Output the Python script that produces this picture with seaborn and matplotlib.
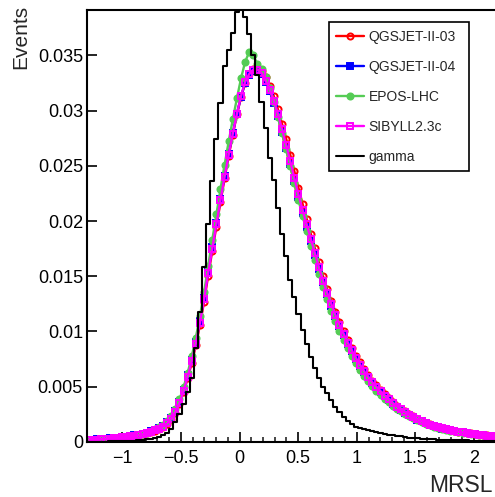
"""MRSL distributions for hadron models and gamma, ROOT-like style."""

import matplotlib

matplotlib.use("Agg")

import matplotlib.pyplot as plt
import numpy as np
import pandas as pd
import seaborn as sns
from matplotlib.ticker import FixedLocator, MultipleLocator

# 100 bins from -1.3 to 2.2 (bin contents)
x_min, x_max = -1.3, 2.2
n_bins = 100

qgsjet_ii_03 = [
    0.00019, 0.00021, 0.00023, 0.00024, 0.00027, 0.00031, 0.00033, 0.00037, 0.00043, 0.00045,
    0.00051, 0.00054, 0.00061, 0.00070, 0.00078, 0.00090, 0.00103, 0.00118, 0.00138, 0.00165,
    0.00205, 0.00262, 0.00340, 0.00448, 0.00575, 0.00715, 0.00875, 0.01060, 0.01270, 0.01505,
    0.01730, 0.01950, 0.02170, 0.02385, 0.02590, 0.02780, 0.02965, 0.03120, 0.03250, 0.03330,
    0.03375, 0.03385, 0.03360, 0.03300, 0.03225, 0.03130, 0.03010, 0.02880, 0.02745, 0.02600,
    0.02450, 0.02300, 0.02155, 0.02020, 0.01885, 0.01755, 0.01625, 0.01500, 0.01385, 0.01280,
    0.01180, 0.01090, 0.01005, 0.00925, 0.00850, 0.00780, 0.00720, 0.00660, 0.00605, 0.00555,
    0.00512, 0.00470, 0.00432, 0.00398, 0.00362, 0.00330, 0.00302, 0.00277, 0.00252, 0.00231,
    0.00210, 0.00192, 0.00176, 0.00161, 0.00148, 0.00136, 0.00126, 0.00117, 0.00108, 0.00101,
    0.00094, 0.00088, 0.00082, 0.00077, 0.00072, 0.00067, 0.00063, 0.00059, 0.00055, 0.00052,
]

qgsjet_ii_04 = [
    0.00021, 0.00022, 0.00024, 0.00026, 0.00029, 0.00032, 0.00036, 0.00040, 0.00044, 0.00049,
    0.00054, 0.00059, 0.00065, 0.00074, 0.00085, 0.00097, 0.00111, 0.00127, 0.00148, 0.00178,
    0.00220, 0.00280, 0.00362, 0.00472, 0.00602, 0.00745, 0.00905, 0.01095, 0.01305, 0.01545,
    0.01765, 0.01985, 0.02200, 0.02410, 0.02610, 0.02795, 0.02970, 0.03125, 0.03250, 0.03320,
    0.03360, 0.03360, 0.03330, 0.03260, 0.03175, 0.03070, 0.02950, 0.02810, 0.02665, 0.02515,
    0.02365, 0.02215, 0.02075, 0.01945, 0.01815, 0.01690, 0.01565, 0.01445, 0.01335, 0.01235,
    0.01140, 0.01050, 0.00970, 0.00890, 0.00820, 0.00752, 0.00692, 0.00634, 0.00584, 0.00535,
    0.00494, 0.00455, 0.00416, 0.00384, 0.00346, 0.00316, 0.00290, 0.00266, 0.00242, 0.00222,
    0.00202, 0.00186, 0.00170, 0.00156, 0.00143, 0.00132, 0.00122, 0.00113, 0.00106, 0.00099,
    0.00092, 0.00086, 0.00080, 0.00075, 0.00070, 0.00065, 0.00061, 0.00057, 0.00053, 0.00050,
]

epos_lhc = [
    0.00018, 0.00019, 0.00021, 0.00023, 0.00026, 0.00029, 0.00032, 0.00036, 0.00040, 0.00045,
    0.00050, 0.00056, 0.00063, 0.00072, 0.00084, 0.00098, 0.00114, 0.00132, 0.00155, 0.00188,
    0.00235, 0.00300, 0.00385, 0.00495, 0.00625, 0.00775, 0.00945, 0.01140, 0.01355, 0.01595,
    0.01830, 0.02060, 0.02290, 0.02510, 0.02720, 0.02920, 0.03110, 0.03290, 0.03440, 0.03530,
    0.03500, 0.03420, 0.03380, 0.03300, 0.03200, 0.03080, 0.02940, 0.02795, 0.02650, 0.02495,
    0.02340, 0.02190, 0.02045, 0.01910, 0.01775, 0.01645, 0.01520, 0.01400, 0.01290, 0.01190,
    0.01095, 0.01005, 0.00925, 0.00850, 0.00780, 0.00715, 0.00655, 0.00600, 0.00550, 0.00505,
    0.00465, 0.00428, 0.00393, 0.00362, 0.00330, 0.00302, 0.00277, 0.00254, 0.00232, 0.00213,
    0.00195, 0.00179, 0.00164, 0.00151, 0.00139, 0.00128, 0.00119, 0.00110, 0.00103, 0.00096,
    0.00090, 0.00084, 0.00078, 0.00073, 0.00068, 0.00064, 0.00060, 0.00056, 0.00052, 0.00049,
]

sibyll_23c = [
    0.00020, 0.00020, 0.00022, 0.00025, 0.00028, 0.00030, 0.00034, 0.00038, 0.00042, 0.00046,
    0.00050, 0.00055, 0.00060, 0.00068, 0.00080, 0.00092, 0.00105, 0.00120, 0.00140, 0.00170,
    0.00210, 0.00270, 0.00350, 0.00460, 0.00590, 0.00730, 0.00890, 0.01080, 0.01290, 0.01530,
    0.01750, 0.01970, 0.02190, 0.02400, 0.02600, 0.02790, 0.02970, 0.03130, 0.03260, 0.03330,
    0.03370, 0.03370, 0.03340, 0.03270, 0.03190, 0.03090, 0.02970, 0.02830, 0.02690, 0.02540,
    0.02390, 0.02240, 0.02100, 0.01970, 0.01840, 0.01710, 0.01580, 0.01460, 0.01350, 0.01250,
    0.01150, 0.01060, 0.00980, 0.00900, 0.00830, 0.00760, 0.00700, 0.00640, 0.00590, 0.00540,
    0.00500, 0.00460, 0.00420, 0.00390, 0.00350, 0.00320, 0.00295, 0.00270, 0.00245, 0.00225,
    0.00205, 0.00188, 0.00172, 0.00158, 0.00145, 0.00134, 0.00124, 0.00115, 0.00107, 0.00100,
    0.00093, 0.00087, 0.00081, 0.00076, 0.00071, 0.00066, 0.00062, 0.00058, 0.00054, 0.00051,
]

gamma = [
    0.00002, 0.00002, 0.00003, 0.00003, 0.00004, 0.00005, 0.00005, 0.00006, 0.00008, 0.00009,
    0.00010, 0.00012, 0.00015, 0.00020, 0.00025, 0.00030, 0.00036, 0.00045, 0.00060, 0.00080,
    0.00120, 0.00180, 0.00250, 0.00340, 0.00450, 0.00580, 0.00850, 0.01180, 0.01580, 0.01970,
    0.02360, 0.02740, 0.03070, 0.03400, 0.03550, 0.03700, 0.03890, 0.03920, 0.03850, 0.03690,
    0.03500, 0.03320, 0.03080, 0.02840, 0.02570, 0.02370, 0.02120, 0.01880, 0.01680, 0.01470,
    0.01310, 0.01160, 0.01010, 0.00890, 0.00770, 0.00670, 0.00580, 0.00500, 0.00440, 0.00380,
    0.00320, 0.00270, 0.00230, 0.00190, 0.00160, 0.00140, 0.00130, 0.00120, 0.00110, 0.00100,
    0.00090, 0.00080, 0.00070, 0.00065, 0.00060, 0.00055, 0.00050, 0.00045, 0.00040, 0.00037,
    0.00034, 0.00031, 0.00028, 0.00026, 0.00024, 0.00022, 0.00020, 0.00019, 0.00018, 0.00017,
    0.00016, 0.00015, 0.00014, 0.00013, 0.00012, 0.00012, 0.00011, 0.00010, 0.00010, 0.00009,
]

series_labels = ["QGSJET-II-03", "QGSJET-II-04", "EPOS-LHC", "SIBYLL2.3c"]
x_ticks = [-1, -0.5, 0, 0.5, 1, 1.5, 2]
x_tick_labels = ["\u22121", "\u22120.5", "0", "0.5", "1", "1.5", "2"]
y_ticks = [0, 0.005, 0.01, 0.015, 0.02, 0.025, 0.03, 0.035]
y_tick_labels = ["0", "0.005", "0.01", "0.015", "0.02", "0.025", "0.03", "0.035"]

sns.set_style("ticks")
plt.rcParams["font.family"] = ["Liberation Sans", "DejaVu Sans"]

edges = np.linspace(x_min, x_max, n_bins + 1)
centers = 0.5 * (edges[:-1] + edges[1:])
gamma_df = pd.DataFrame({"mrsl": centers, "events": gamma})

styles = [
    dict(color="#ff0000", marker="o", markerfacecolor="none"),
    dict(color="#0000ff", marker="s", markerfacecolor="#0000ff"),
    dict(color="#55cc55", marker="o", markerfacecolor="#55cc55"),
    dict(color="#ff00ff", marker="s", markerfacecolor="none"),
]

fig = plt.figure(figsize=(4.95, 4.97), dpi=100)
ax = fig.add_axes([0.176, 0.1107, 0.829, 0.8692])

for values, label, style in zip(
    [qgsjet_ii_03, qgsjet_ii_04, epos_lhc, sibyll_23c], series_labels, styles
):
    sns.lineplot(
        x=centers,
        y=values,
        ax=ax,
        label=label,
        linewidth=1.7,
        markersize=4.4,
        markeredgewidth=1.4,
        markeredgecolor=style["color"],
        **style,
    )

sns.histplot(
    data=gamma_df,
    x="mrsl",
    weights="events",
    bins=n_bins,
    binrange=(x_min, x_max),
    element="step",
    fill=False,
    color="black",
    linewidth=1.5,
    ax=ax,
    label="gamma",
)

ax.set_xlim(x_min, x_max)
ax.set_ylim(0, 0.0391)
ax.xaxis.set_major_locator(FixedLocator(x_ticks))
ax.set_xticklabels(x_tick_labels)
ax.xaxis.set_minor_locator(MultipleLocator(0.1))
ax.yaxis.set_major_locator(FixedLocator(y_ticks))
ax.set_yticklabels(y_tick_labels)
ax.tick_params(axis="both", which="major", direction="in", length=7, width=1.2,
               labelsize=13, colors="black")
ax.tick_params(axis="x", which="major", pad=6)
ax.tick_params(axis="y", which="major", pad=3)
ax.tick_params(axis="x", which="minor", direction="in", length=3.5, width=1.2)
for spine in ax.spines.values():
    spine.set_visible(True)
    spine.set_linewidth(1.5)
    spine.set_color("black")

ax.set_xlabel("MRSL", fontsize=16.5, ha="right", va="center")
ax.xaxis.set_label_coords(0.989, -0.1)
ax.set_ylabel("Events", fontsize=15, ha="right", va="bottom")
ax.yaxis.set_label_coords(-0.139, 1.012)

handles, labels = ax.get_legend_handles_labels()
leg = ax.legend(
    handles,
    labels,
    loc="upper left",
    bbox_to_anchor=(0.589, 0.623, 0.342, 0.349),
    mode="expand",
    fontsize=10,
    frameon=True,
    fancybox=False,
    framealpha=1,
    edgecolor="black",
    handlelength=2.0,
    handletextpad=0.3,
    labelspacing=1.15,
    borderpad=0.55,
    borderaxespad=0,
    numpoints=1,
)
leg.get_frame().set_linewidth(1.2)

fig.savefig("out.png", dpi=100)
